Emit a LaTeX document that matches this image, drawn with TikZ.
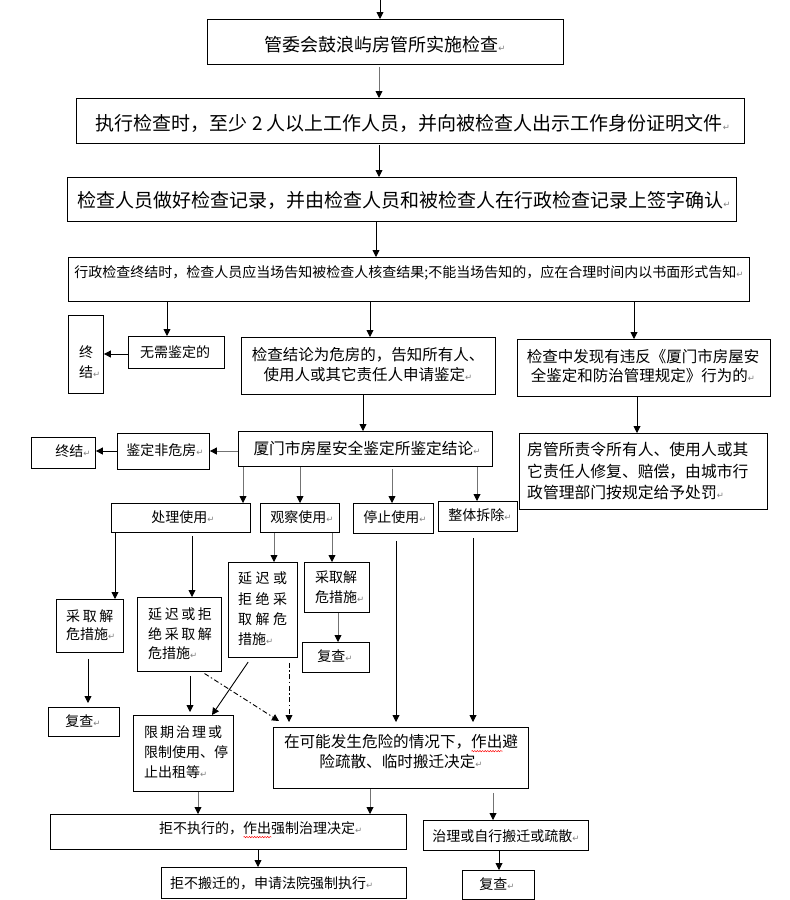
\documentclass[tikz,border=0pt]{standalone}
\usepackage{fontspec}
\setmainfont{Noto Sans CJK SC}
\newfontfamily\dvs{DejaVu Sans}
\usetikzlibrary{arrows.meta,decorations.pathmorphing}
\newcommand\pmk{{\dvs\fontsize{8.5}{8.5}\selectfont\textcolor{gray}{↵}}}
\newcommand\fsz[2]{\fontsize{#1}{#2}\selectfont}
\newsavebox\wvbox
\newcommand\redwave[1]{\sbox\wvbox{#1}\rlap{\raisebox{-3.2pt}{\tikz[baseline=0pt]\draw[red,line width=0.45pt,decorate,decoration={snake,amplitude=0.7pt,segment length=2.6pt}] (0pt,0pt) -- (\wd\wvbox,0pt);}}\usebox\wvbox}
\newcommand\gp{\hspace{2.6pt}}
\tikzset{
 box/.style={draw, line width=0.9pt, inner sep=0pt, anchor=north west},
 txt/.style={inner sep=0pt, align=center},
 txl/.style={inner sep=0pt, align=left, anchor=west},
 arr/.style={line width=0.9pt, -{Triangle[length=7pt,width=7pt,color=black]}},
 garr/.style={arr, draw=black!55},
 dd/.style={arr, dash pattern=on 5pt off 2.5pt on 1.5pt off 2.5pt},
}
\newcommand\bx[5]{\node[box, minimum width={(#4-#2)*1pt}, minimum height={(#5-#3)*1pt}] (#1) at (#2,#3) {};}
\begin{document}
\begin{tikzpicture}[x=1pt,y=-1pt]
\useasboundingbox (0,0) rectangle (790,900);
% boxes
\bx{b1}{207}{19}{563}{64}
\bx{b2}{76}{98}{744}{143}
\bx{b3}{67}{177}{736}{221}
\bx{b4}{68}{257}{749}{301}
\bx{z1}{68}{315}{103}{393}
\bx{wx}{128}{336}{224}{368}
\bx{jl}{241}{337}{495}{394}
\bx{fx}{517}{339}{770}{396}
\bx{z2}{31}{437}{95}{468}
\bx{jf}{117}{433}{209}{469}
\bx{xm}{238}{431}{492}{466}
\bx{fg}{519}{433}{767}{509}
\bx{cl}{111}{503}{250}{532}
\bx{gc}{260}{503}{339}{532}
\bx{tz}{353}{503}{433}{533}
\bx{zt}{438}{501}{517}{531}
\bx{ca}{56}{599}{123}{652}
\bx{d2}{137}{597}{221}{671}
\bx{d3}{228}{562}{297}{657}
\bx{cr}{304}{562}{369}{612}
\bx{fr}{302}{642}{369}{672}
\bx{fl}{48}{707}{119}{736}
\bx{xq}{133}{715}{233}{791}
\bx{zk}{273}{727}{528}{788}
\bx{jz}{50}{814}{406}{849}
\bx{jb}{161}{867}{406}{898}
\bx{zl}{423}{820}{588}{850}
\bx{fb}{462}{870}{534}{899}
% texts
\node[txt, font=\fsz{18}{18}] (t1) at (385,45) {管委会鼓浪屿房管所实施检查\pmk};
\node[txt, font=\fsz{19}{19}] (t2) at (413,123) {执行检查时，至少 2 人以上工作人员，并向被检查人出示工作身份证明文件\pmk};
\node[txt, font=\fsz{19}{19}] (t3) at (404,200) {检查人员做好检查记录，并由检查人员和被检查人在行政检查记录上签字确认\pmk};
\node[txt, font=\fsz{14}{14}] (t4) at (409,273) {行政检查终结时，检查人员应当场告知被检查人核查结果;不能当场告知的，应在合理时间内以书面形式告知\pmk};
\node[txl, font=\fsz{14}{20}] (tz1) at (79,362) {终\\结\pmk};
\node[txt, font=\fsz{14}{14}] (twx) at (175,352) {无需鉴定的};
\node[txt, font=\fsz{15.5}{20}] (tjl) at (368,365) {检查结论为危房的，告知所有人、\\使用人或其它责任人申请鉴定\pmk};
\node[txt, font=\fsz{15.5}{19.5}] (tfx) at (643,366) {检查中发现有违反《厦门市房屋安\\全鉴定和防治管理规定》行为的\pmk};
\node[txt, font=\fsz{14}{14}] (tz2) at (73,451) {终结\pmk};
\node[txt, font=\fsz{14}{14}] (tjf) at (165,450) {鉴定非危房\pmk};
\node[txt, font=\fsz{15.7}{15.7}] (txm) at (367,448) {厦门市房屋安全鉴定所鉴定结论\pmk};
\node[txl, font=\fsz{15.8}{21.5}] (tfg) at (527,471) {房管所责令所有人、使用人或其\\它责任人修复、赔偿，由城市行\\政管理部门按规定给予处罚\pmk};
\node[txt, font=\fsz{14}{14}] (tcl) at (183,517) {处理使用\pmk};
\node[txt, font=\fsz{14}{14}] (tgc) at (302,517) {观察使用\pmk};
\node[txt, font=\fsz{14}{14}] (ttz) at (395,517) {停止使用\pmk};
\node[txt, font=\fsz{14}{14}] (tzt) at (480,515) {整体拆除\pmk};
\node[txl, font=\fsz{14}{18}] (tca) at (66,625) {采\gp 取\gp 解\\危措施\pmk};
\node[txl, font=\fsz{14}{19.5}] (td2) at (148,634) {延\gp 迟\gp 或\gp 拒\\绝\gp 采\gp 取\gp 解\\危措施\pmk};
\node[txl, font=\fsz{14}{20.3}] (td3) at (238,609) {延\hspace{3.5pt}迟\hspace{3.5pt}或\\拒\hspace{3.5pt}绝\hspace{3.5pt}采\\取\hspace{3.5pt}解\hspace{3.5pt}危\\措施\pmk};
\node[txl, font=\fsz{14}{20}] (tcr) at (315,587) {采取解\\危措施\pmk};
\node[txt, font=\fsz{14}{14}] (tfr) at (335,656) {复查\pmk};
\node[txt, font=\fsz{14}{14}] (tfl) at (83,721) {复查\pmk};
\node[txl, font=\fsz{14}{20}] (txq) at (144,752) {限\hspace{2pt}期\hspace{2pt}治\hspace{2pt}理\hspace{2pt}或\\限制使用、停\\止出租等\pmk};
\node[txt, font=\fsz{15.6}{20}] (tzk) at (401,752) {在可能发生危险的情况下，\redwave{作出}避\\险疏散、临时搬迁决定\pmk};
\node[txl, font=\fsz{14}{14}] (tjz) at (159,830) {拒不执行的，\redwave{作出}强制治理决定\pmk};
\node[txl, font=\fsz{14}{14}] (tjb) at (170,883) {拒不搬迁的，申请法院强制执行\pmk};
\node[txt, font=\fsz{14}{14}] (tzl) at (506,836) {治理或自行搬迁或疏散\pmk};
\node[txt, font=\fsz{14}{14}] (tfb) at (497,884) {复查\pmk};
% connectors
\coordinate (top) at (380,0);
\draw[arr] (top) -- (b1.north -| top);
\draw[garr, shorten <=2pt] (b1.south -| 379,0) -- (b2.north -| 379,0);
\draw[arr, shorten <=1pt] (b2.south -| 379,0) -- (b3.north -| 379,0);
\draw[arr] (b3.south -| 376,0) -- (b4.north -| 376,0);
\draw[arr] (b4.south -| 167,0) -- (wx.north -| 167,0);
\draw[arr] (b4.south -| 370,0) -- (jl.north -| 370,0);
\draw[arr] (b4.south -| 634,0) -- (fx.north -| 634,0);
\draw[arr] (wx.west |- 0,354) -- (z1.east |- 0,354);
\draw[arr] (jl.south -| 363,0) -- (xm.north -| 363,0);
\draw[arr] (fx.south -| 637,0) -- (fg.north -| 637,0);
\draw[garr] (xm.west |- 0,451) -- (jf.east |- 0,451);
\draw[arr] (jf.west |- 0,451) -- (z2.east |- 0,451);
\draw[garr] (xm.south -| 243,0) -- (cl.north -| 243,0);
\draw[garr] (xm.south -| 300,0) -- (gc.north -| 300,0);
\draw[garr, shorten <=2pt] (xm.south -| 392,0) -- (tz.north -| 392,0);
\draw[garr] (xm.south -| 477,0) -- (zt.north -| 477,0);
\draw[arr] (cl.south -| 115,0) -- (ca.north -| 115,0);
\draw[arr, shorten <=3pt] (cl.south -| 192,0) -- (d2.north -| 192,0);
\draw[garr] (gc.south -| 274,0) -- (d3.north -| 274,0);
\draw[garr] (gc.south -| 332,0) -- (cr.north -| 332,0);
\draw[garr] (cr.south -| 338,0) -- (fr.north -| 338,0);
\draw[arr, shorten <=6pt, shorten >=4pt] (ca.south -| 88,0) -- (fl.north -| 88,0);
\draw[arr, shorten <=4pt, shorten >=3pt] (d2.south -| 190,0) -- (xq.north -| 190,0);
\draw[arr, shorten <=5pt] (d3.south -| 251,0) -- (xq.north -| 212,0);
\coordinate (e1) at (279,721);
\coordinate (e2) at (289,722);
\draw[dd, shorten <=3pt] (d2.south -| 202,0) -- (e1);
\draw[dd, shorten <=5pt] (d3.south -| 289,0) -- (e2);
\draw[arr, shorten <=7pt, shorten >=5pt] (tz.south -| 396,0) -- (zk.north -| 396,0);
\draw[arr, shorten <=6pt, shorten >=5pt] (zt.south -| 473,0) -- (zk.north -| 473,0);
\draw[garr] (xq.south -| 198,0) -- (jz.north -| 198,0);
\draw[garr] (zk.south -| 370,0) -- (jz.north -| 370,0);
\draw[garr, shorten <=4pt] (zk.south -| 493,0) -- (zl.north -| 493,0);
\draw[arr] (jz.south -| 258,0) -- (jb.north -| 258,0);
\draw[arr] (zl.south -| 499,0) -- (fb.north -| 499,0);
\end{tikzpicture}
\end{document}
